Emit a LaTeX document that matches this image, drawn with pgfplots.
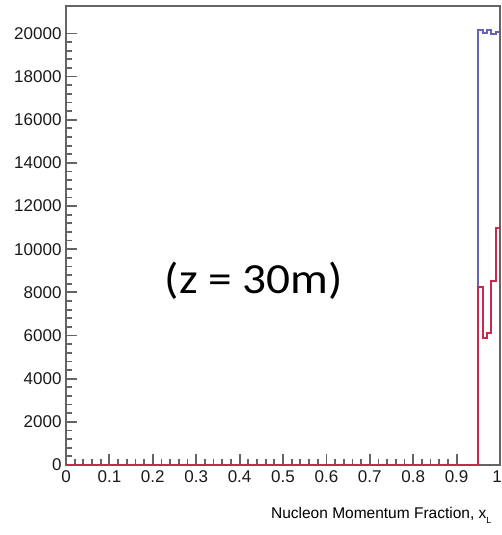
\documentclass[border=0pt]{standalone}
\usepackage{pgfplots}
\pgfplotsset{compat=1.18}
\usepackage{fontspec}
\setmainfont{Liberation Sans}
\newfontfamily\calib{Carlito}

\definecolor{histblue}{RGB}{100,100,185}
\definecolor{histred}{RGB}{200,40,75}
\definecolor{axgray}{RGB}{100,100,100}

\begin{document}
\begin{tikzpicture}
\begin{axis}[
  name=ax,
  scale only axis,
  width=434pt, height=459pt,
  xmin=0, xmax=1, ymin=0, ymax=21270,
  clip=false,
  axis line style={axgray, line width=2pt},
  tick style={axgray, line width=1.8pt},
  tick align=inside,
  tick pos=left,
  major tick length=11pt,
  minor tick length=6pt,
  xtick={0,0.1,...,0.9},
  xticklabels={0,0.1,0.2,0.3,0.4,0.5,0.6,0.7,0.8,0.9},
  extra x ticks={1},
  extra x tick labels={1},
  extra x tick style={major tick length=0pt, xticklabel style={xshift=-3pt}},
  minor x tick num=4,
  ytick={0,2000,...,20000},
  yticklabels={0,2000,4000,6000,8000,10000,12000,14000,16000,18000,20000},
  minor y tick num=4,
  scaled ticks=false,
  ticklabel style={font=\fontsize{17}{18}\selectfont, text={rgb,255:red,25;green,25;blue,25}},
  xticklabel style={yshift=-2pt},
  yticklabel style={xshift=-1pt},
  xlabel={Nucleon Momentum Fraction, x\raisebox{-0.7ex}{\fontsize{9}{9}\selectfont L}},
  xlabel style={at={(rel axis cs:1,0)}, anchor=base east, xshift=-5pt, yshift=-53pt,
    font=\fontsize{15.5}{16}\selectfont},
]
% total yield per bin
\addplot[const plot, histblue, line width=2pt] coordinates {
  (0,0) (0.95,20150) (0.96,20000) (0.97,20150) (0.98,19950) (0.99,20050) (1,20050)
};
% accepted yield per bin
\addplot[const plot, histred, line width=2pt] coordinates {
  (0,0) (0.95,8260) (0.96,5900) (0.97,6100) (0.98,8540) (0.99,10960) (1,10960)
};
\node[font=\calib\fontsize{43}{43}\selectfont, anchor=base, xscale=1.1]
  at (axis cs:0.433,7970) {(z = 30m)};
\end{axis}
\pgfresetboundingbox
\path[use as bounding box] ([xshift=-66pt,yshift=-70pt]ax.south west)
  rectangle ([xshift=2pt,yshift=6pt]ax.north east);
\end{tikzpicture}
\end{document}
